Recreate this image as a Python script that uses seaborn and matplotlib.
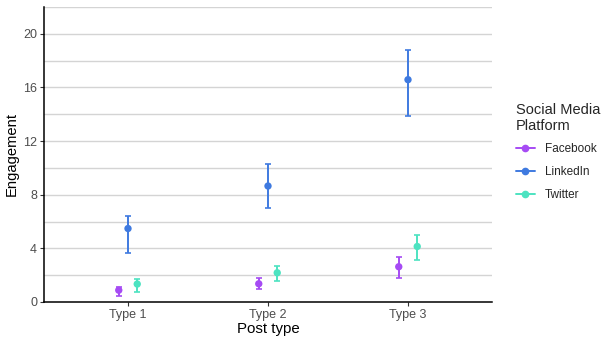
import matplotlib
matplotlib.use("Agg")
import matplotlib.pyplot as plt
from matplotlib.lines import Line2D
import numpy as np
import pandas as pd
import seaborn as sns

post_types = ["Type 1", "Type 2", "Type 3"]
platforms = ["Facebook", "LinkedIn", "Twitter"]
colors = ["#a64bf4", "#3f7ae0", "#4de3c1"]

# engagement estimate and interval, per platform, in post type order
facebook_mid = [0.88, 1.36, 2.63]
facebook_lo = [0.47, 0.94, 1.81]
facebook_hi = [1.12, 1.81, 3.32]
linkedin_mid = [5.48, 8.65, 16.58]
linkedin_lo = [3.62, 7.04, 13.85]
linkedin_hi = [6.42, 10.31, 18.79]
twitter_mid = [1.34, 2.18, 4.14]
twitter_lo = [0.77, 1.58, 3.10]
twitter_hi = [1.69, 2.70, 5.03]


def main():
    sns.set_theme(style="white")
    plt.rcParams["font.family"] = ["Liberation Sans", "DejaVu Sans"]

    rows = []
    series = {
        "Facebook": (facebook_mid, facebook_lo, facebook_hi),
        "LinkedIn": (linkedin_mid, linkedin_lo, linkedin_hi),
        "Twitter": (twitter_mid, twitter_lo, twitter_hi),
    }
    for name, (mid, lo, hi) in series.items():
        for i, pt in enumerate(post_types):
            rows.append({"post": pt, "platform": name, "mid": mid[i], "lo": lo[i], "hi": hi[i]})
    df = pd.DataFrame(rows)

    dodge = 0.066
    offsets = {p: (k - 1) * dodge for k, p in enumerate(platforms)}
    df["x"] = df["post"].map({p: i for i, p in enumerate(post_types)}) + df["platform"].map(offsets)

    fig = plt.figure(figsize=(6.05, 3.44), dpi=100)
    ax = fig.add_axes([44 / 605, 42 / 344, 448 / 605, 295 / 344])

    for y in np.arange(2, 23, 2):
        ax.axhline(y, color="#d4d4d4", lw=1.0, zorder=0)

    palette = dict(zip(platforms, colors))
    for name in platforms:
        sub = df[df["platform"] == name]
        ax.errorbar(
            sub["x"], sub["mid"],
            yerr=[sub["mid"] - sub["lo"], sub["hi"] - sub["mid"]],
            fmt="none", ecolor=palette[name], elinewidth=1.4, capsize=2.2, capthick=1.2, zorder=2,
        )
    sns.scatterplot(
        data=df, x="x", y="mid", hue="platform", palette=palette,
        s=28, edgecolor="none", legend=False, ax=ax, zorder=3,
    )

    ax.set_xlim(-0.6, 2.6)
    ax.set_ylim(0, 22)
    ax.set_xticks(range(len(post_types)))
    ax.set_xticklabels(post_types)
    ax.set_yticks([0, 4, 8, 12, 16, 20])
    ax.tick_params(axis="both", length=3, width=0.8, color="#333333", labelsize=9,
                   labelcolor="#4d4d4d", pad=2, left=True, bottom=True)
    ax.set_xlabel("Post type", fontsize=10.8, color="black", labelpad=1)
    ax.set_ylabel("Engagement", fontsize=10.6, color="black", labelpad=3)
    for side in ["top", "right"]:
        ax.spines[side].set_visible(False)
    for side in ["left", "bottom"]:
        ax.spines[side].set_color("black")
        ax.spines[side].set_linewidth(1.1)

    handles = [
        Line2D([0], [0], color=c, marker="o", markersize=4.5, lw=1.4) for c in colors
    ]
    fig.legend(
        handles, platforms, title="Social Media\nPlatform", loc="upper left",
        bbox_to_anchor=(505 / 605, 1 - 92 / 344), frameon=False, fontsize=8.5,
        title_fontsize=10.5, alignment="left", handlelength=1.6, labelspacing=0.9,
        handletextpad=0.9,
    )

    fig.savefig("out.png", dpi=100)
    plt.close(fig)


if __name__ == "__main__":
    main()
